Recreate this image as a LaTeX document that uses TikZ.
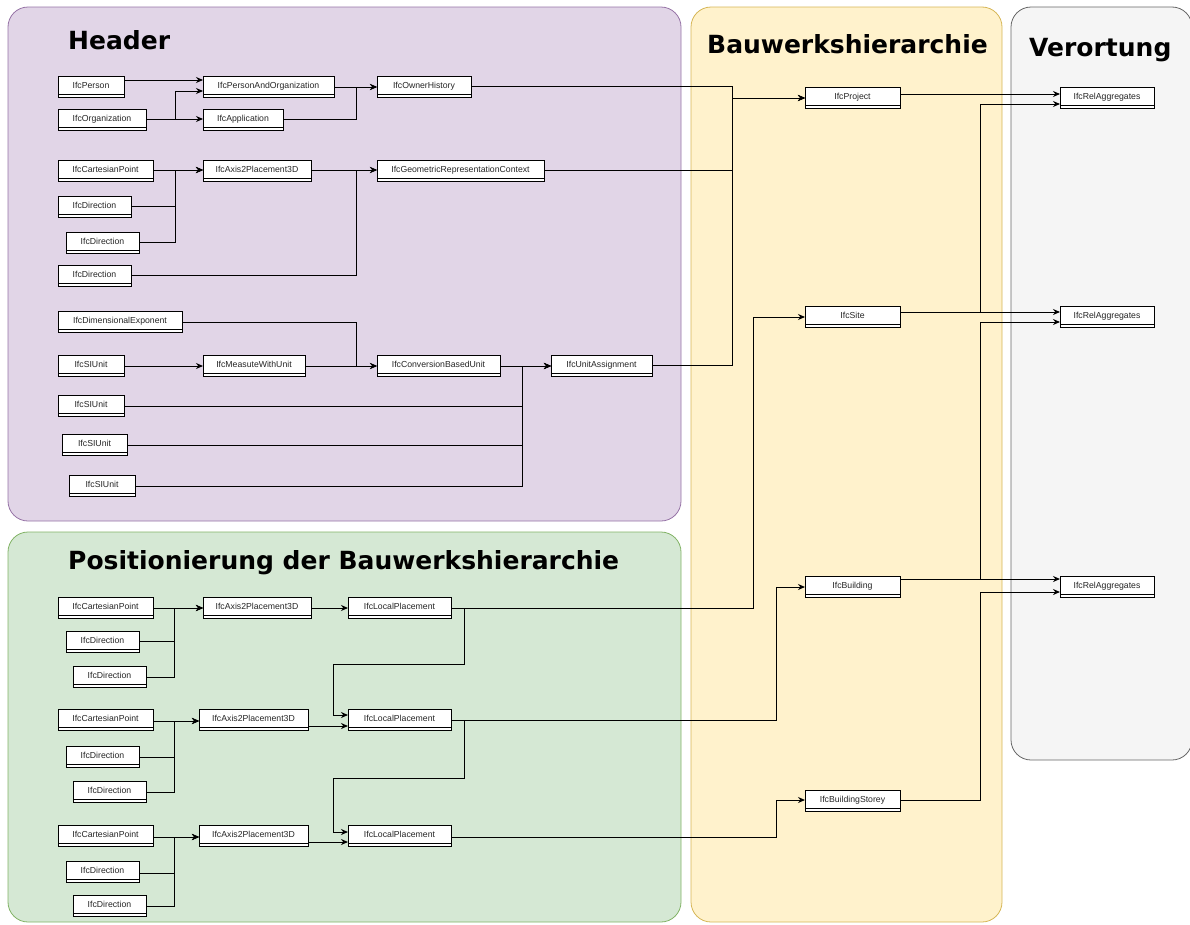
\documentclass[tikz,border=0pt]{standalone}
\usepackage{fontspec}
\setmainfont{Liberation Sans}
\newfontfamily\titlefont{DejaVu Sans}
\usetikzlibrary{arrows.meta,calc}

\definecolor{hdrfill}{HTML}{E1D5E7}\definecolor{hdrline}{HTML}{9673A6}
\definecolor{posfill}{HTML}{D5E8D4}\definecolor{posline}{HTML}{82B366}
\definecolor{bwfill}{HTML}{FFF2CC}\definecolor{bwline}{HTML}{D6B656}
\definecolor{ortfill}{HTML}{F5F5F5}\definecolor{ortline}{HTML}{666666}

% class box: name, left x, top y, right x, label
\newcommand{\ifcbox}[5]{%
  \node[ifc, minimum width={#4-#2}] (#1) at ({(#2+#4)/2},{#3+9}) {#5};
  \draw[ifcframe] ($(#1.south west)+(0,3)$) rectangle (#1.south east);
}

\begin{document}
\begin{tikzpicture}[x=1pt,y=-1pt,
  panel/.style={line width=0.8pt, rounded corners=20pt},
  paneltitle/.style={font=\titlefont\bfseries\fontsize{25}{30}\selectfont, anchor=base west, inner sep=0pt},
  ifc/.style={draw, line width=0.9pt, fill=white, inner sep=0pt, outer sep=0pt,
    minimum height=18pt, text height=6.2pt, text depth=0pt,
    font=\fontsize{8.7}{10}\selectfont, text=black!85},
  ifcframe/.style={draw, line width=0.9pt, fill=white},
  arr/.style={draw, line width=1pt, -{Stealth[length=7pt,width=6pt]}},
]
\useasboundingbox (0,0) rectangle (1190,924);

% ---- panels ----
\path[panel, fill=hdrfill, draw=hdrline] (8,7) rectangle (681,521);
\path[panel, fill=posfill, draw=posline] (8,532) rectangle (681,922);
\path[panel, fill=bwfill, draw=bwline] (691,7) rectangle (1002,922);
\path[panel, fill=ortfill, draw=ortline] (1011,7) rectangle (1192,760);

\node[paneltitle] (tHeader) at (68,49) {Header};
\node[paneltitle] (tBau) at (707,53) {Bauwerkshierarchie};
\node[paneltitle] (tOrt) at (1029,56) {Verortung};
\node[paneltitle] (tPos) at (68,569) {Positionierung der Bauwerkshierarchie};

% ---- header ----
\ifcbox{per}{58}{76}{124}{IfcPerson}
\ifcbox{org}{58}{109}{146}{IfcOrganization}
\ifcbox{pao}{203}{76}{334}{IfcPersonAndOrganization}
\ifcbox{app}{203}{109}{283}{IfcApplication}
\ifcbox{own}{377}{76}{471}{IfcOwnerHistory}
\ifcbox{cp}{58}{160}{153}{IfcCartesianPoint}
\ifcbox{axh}{203}{160}{311}{IfcAxis2Placement3D}
\ifcbox{grc}{377}{160}{544}{IfcGeometricRepresentationContext}
\ifcbox{dA}{58}{196}{131}{IfcDirection}
\ifcbox{dB}{66}{232}{139}{IfcDirection}
\ifcbox{dC}{58}{265}{131}{IfcDirection}
\ifcbox{dim}{58}{311}{182}{IfcDimensionalExponent}
\ifcbox{siA}{58}{355}{124}{IfcSIUnit}
\ifcbox{mwu}{203}{355}{305}{IfcMeasuteWithUnit}
\ifcbox{cbu}{377}{355}{500}{IfcConversionBasedUnit}
\ifcbox{ua}{551}{355}{652}{IfcUnitAssignment}
\ifcbox{siB}{58}{395}{124}{IfcSIUnit}
\ifcbox{siC}{62}{434}{127}{IfcSIUnit}
\ifcbox{siD}{69}{475}{135}{IfcSIUnit}

% ---- building hierarchy ----
\ifcbox{proj}{805}{87}{900}{IfcProject}
\ifcbox{site}{805}{306}{900}{IfcSite}
\ifcbox{bldg}{805}{576}{900}{IfcBuilding}
\ifcbox{stor}{805}{790}{900}{IfcBuildingStorey}

% ---- aggregation ----
\ifcbox{raA}{1060}{87}{1154}{IfcRelAggregates}
\ifcbox{raB}{1060}{306}{1154}{IfcRelAggregates}
\ifcbox{raC}{1060}{576}{1154}{IfcRelAggregates}

% ---- placement ----
\ifcbox{gcpA}{58}{597}{153}{IfcCartesianPoint}
\ifcbox{gdAa}{66}{631}{139}{IfcDirection}
\ifcbox{gdAb}{73}{666}{146}{IfcDirection}
\ifcbox{gaxA}{203}{597}{311}{IfcAxis2Placement3D}
\ifcbox{lpA}{348}{597}{451}{IfcLocalPlacement}

\ifcbox{gcpB}{58}{709}{153}{IfcCartesianPoint}
\ifcbox{gdBa}{66}{746}{139}{IfcDirection}
\ifcbox{gdBb}{73}{781}{146}{IfcDirection}
\ifcbox{gaxB}{199}{709}{308}{IfcAxis2Placement3D}
\ifcbox{lpB}{348}{709}{451}{IfcLocalPlacement}

\ifcbox{gcpC}{58}{825}{153}{IfcCartesianPoint}
\ifcbox{gdCa}{66}{861}{139}{IfcDirection}
\ifcbox{gdCb}{73}{895}{146}{IfcDirection}
\ifcbox{gaxC}{199}{825}{308}{IfcAxis2Placement3D}
\ifcbox{lpC}{348}{825}{451}{IfcLocalPlacement}

% ---- header connectors ----
\draw[arr] ($(per.north east)+(0,4)$) -- ($(pao.north west)+(0,4)$);
\draw[arr] ($(org.north east)+(0,10)$) -| ($(pao.north west)+(-28,15)$) -- ($(pao.north west)+(0,15)$);
\draw[arr] ($(org.north east)+(0,10)$) -- ($(app.north west)+(0,10)$);
\draw[arr] ($(pao.north east)+(0,11)$) -- ($(own.north west)+(0,11)$);
\draw[arr] ($(app.north east)+(0,10)$) -| ($(own.north west)+(-21,11)$) -- ($(own.north west)+(0,11)$);
\draw[arr] ($(own.north east)+(0,10)$) -| ($(proj.north west)+(-73,11)$) -- ($(proj.north west)+(0,11)$);
\draw[arr] ($(grc.north east)+(0,10)$) -| ($(proj.north west)+(-73,11)$) -- ($(proj.north west)+(0,11)$);
\draw[arr] ($(ua.north east)+(0,10)$) -| ($(proj.north west)+(-73,11)$) -- ($(proj.north west)+(0,11)$);

\draw[arr] ($(cp.north east)+(0,10)$) -- ($(axh.north west)+(0,10)$);
\draw[arr] ($(dA.north east)+(0,10)$) -| ($(axh.north west)+(-28,10)$) -- ($(axh.north west)+(0,10)$);
\draw[arr] ($(dB.north east)+(0,10)$) -| ($(axh.north west)+(-28,10)$) -- ($(axh.north west)+(0,10)$);
\draw[arr] ($(axh.north east)+(0,10)$) -- ($(grc.north west)+(0,10)$);
\draw[arr] ($(dC.north east)+(0,10)$) -| ($(grc.north west)+(-21,10)$) -- ($(grc.north west)+(0,10)$);

\draw[arr] ($(dim.north east)+(0,11)$) -| ($(cbu.north west)+(-21,11)$) -- ($(cbu.north west)+(0,11)$);
\draw[arr] ($(siA.north east)+(0,11)$) -- ($(mwu.north west)+(0,11)$);
\draw[arr] ($(mwu.north east)+(0,11)$) -- ($(cbu.north west)+(0,11)$);
\draw[arr] ($(cbu.north east)+(0,11)$) -- ($(ua.north west)+(0,11)$);
\draw[arr] ($(siB.north east)+(0,11)$) -| ($(ua.north west)+(-29,11)$) -- ($(ua.north west)+(0,11)$);
\draw[arr] ($(siC.north east)+(0,11)$) -| ($(ua.north west)+(-29,11)$) -- ($(ua.north west)+(0,11)$);
\draw[arr] ($(siD.north east)+(0,11)$) -| ($(ua.north west)+(-29,11)$) -- ($(ua.north west)+(0,11)$);

% ---- hierarchy to aggregation ----
\draw[arr] ($(proj.north east)+(0,7)$) -- ($(raA.north west)+(0,7)$);
\draw[arr] ($(site.north east)+(0,6)$) -- ($(raB.north west)+(0,6)$);
\draw[arr] ($(site.north east)+(0,6)$) -| ($(raA.north west)+(-80,17)$) -- ($(raA.north west)+(0,17)$);
\draw[arr] ($(bldg.north east)+(0,3)$) -- ($(raC.north west)+(0,3)$);
\draw[arr] ($(bldg.north east)+(0,3)$) -| ($(raB.north west)+(-80,16)$) -- ($(raB.north west)+(0,16)$);
\draw[arr] ($(stor.north east)+(0,10)$) -| ($(raC.north west)+(-80,16)$) -- ($(raC.north west)+(0,16)$);

% ---- placements to hierarchy ----
\draw[arr] ($(lpA.north east)+(0,11)$) -| ($(site.north west)+(-52,11)$) -- ($(site.north west)+(0,11)$);
\draw[arr] ($(lpB.north east)+(0,11)$) -| ($(bldg.north west)+(-29,11)$) -- ($(bldg.north west)+(0,11)$);
\draw[arr] ($(lpC.north east)+(0,12)$) -| ($(stor.north west)+(-29,10)$) -- ($(stor.north west)+(0,10)$);

% ---- placement connectors ----
\draw[arr] ($(gcpA.north east)+(0,11)$) -- ($(gaxA.north west)+(0,11)$);
\draw[arr] ($(gdAa.north east)+(0,10)$) -| ($(gaxA.north west)+(-29,11)$) -- ($(gaxA.north west)+(0,11)$);
\draw[arr] ($(gdAb.north east)+(0,11)$) -| ($(gaxA.north west)+(-29,11)$) -- ($(gaxA.north west)+(0,11)$);
\draw[arr] ($(gaxA.north east)+(0,11)$) -- ($(lpA.north west)+(0,11)$);
\draw[arr] ($(lpA.north east)+(0,11)$) -| ($(lpA.north east)+(13,67)$) -| ($(lpB.north west)+(-15,6)$) -- ($(lpB.north west)+(0,6)$);

\draw[arr] ($(gcpB.north east)+(0,12)$) -- ($(gaxB.north west)+(0,12)$);
\draw[arr] ($(gdBa.north east)+(0,11)$) -| ($(gaxB.north west)+(-25,12)$) -- ($(gaxB.north west)+(0,12)$);
\draw[arr] ($(gdBb.north east)+(0,11)$) -| ($(gaxB.north west)+(-25,12)$) -- ($(gaxB.north west)+(0,12)$);
\draw[arr] ($(gaxB.north east)+(0,17)$) -- ($(lpB.north west)+(0,17)$);
\draw[arr] ($(lpB.north east)+(0,11)$) -| ($(lpB.north east)+(13,69)$) -| ($(lpC.north west)+(-15,7)$) -- ($(lpC.north west)+(0,7)$);

\draw[arr] ($(gcpC.north east)+(0,12)$) -- ($(gaxC.north west)+(0,12)$);
\draw[arr] ($(gdCa.north east)+(0,12)$) -| ($(gaxC.north west)+(-25,12)$) -- ($(gaxC.north west)+(0,12)$);
\draw[arr] ($(gdCb.north east)+(0,11)$) -| ($(gaxC.north west)+(-25,12)$) -- ($(gaxC.north west)+(0,12)$);
\draw[arr] ($(gaxC.north east)+(0,17)$) -- ($(lpC.north west)+(0,17)$);
\end{tikzpicture}
\end{document}
